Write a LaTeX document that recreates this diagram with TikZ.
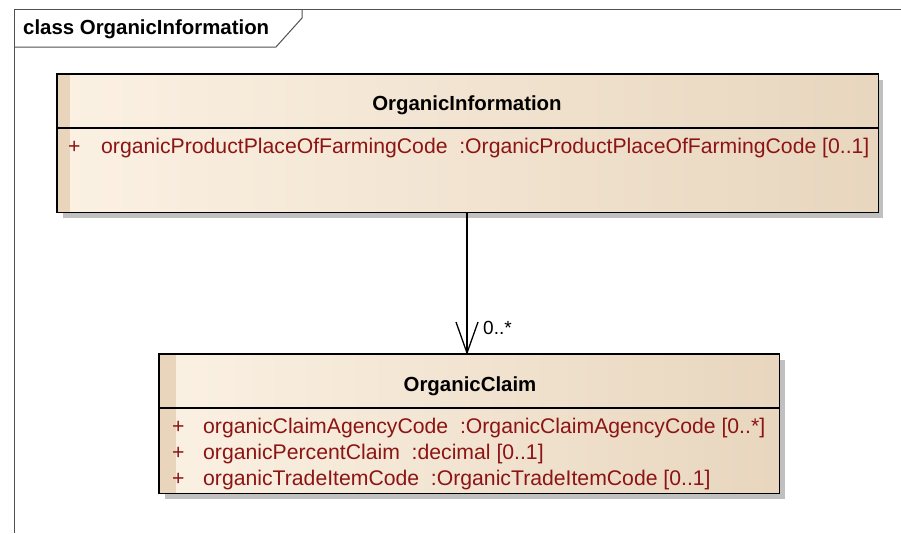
\documentclass[tikz,border=0pt]{standalone}
\usepackage{fontspec}
\setmainfont{Liberation Sans}
\definecolor{attrc}{RGB}{140,20,20}
\definecolor{boxl}{RGB}{251,241,227}
\definecolor{boxr}{RGB}{232,214,190}
\definecolor{stripec}{RGB}{232,213,188}
\definecolor{shadowc}{RGB}{192,192,192}
\definecolor{framec}{RGB}{80,80,80}
\tikzset{
  classbox/.style={draw=none, left color=boxl, right color=boxr, inner sep=0pt, anchor=north west},
  boxline/.style={draw=black, line width=1.8pt},
  divline/.style={draw=black, line width=1.2pt},
  ttl/.style={font=\fontsize{20.4}{24}\selectfont\bfseries, text=black},
  attr/.style={font=\fontsize{21.2}{24}\selectfont, text=attrc, anchor=base west, inner sep=0pt},
  mult/.style={font=\fontsize{19}{22}\selectfont, text=black, anchor=west, inner sep=1pt},
  assoc/.style={draw=black, line width=1.3pt, line join=miter}
}
\begin{document}
\begin{tikzpicture}[x=1pt,y=-1pt]
\useasboundingbox (0,0) rectangle (901,533);
% frame
\draw[framec, line width=1pt] (14,533) -- (14,9) -- (901,9);
\draw[framec, line width=1pt] (14,47) -- (276,47) -- (302,18) -- (302,9);
\node[ttl, anchor=base west, inner sep=0pt] (frametitle) at (23,34) {class OrganicInformation};

% OrganicInformation class
\fill[shadowc] (63,80) rectangle (883,218);
\node[classbox, minimum width=821pt, minimum height=138pt] (oi) at (57,74) {};
\fill[stripec] (57,74) rectangle (70,212);
\draw[divline] (57,128) -- (878,128);
\draw[boxline] (oi.north west) rectangle (oi.south east);
\node[ttl] (oititle) at (467,105) {OrganicInformation};
\node[attr] (oip) at (68,153) {+};
\node[attr] (oia) at (101,153) {organicProductPlaceOfFarmingCode\ \ :OrganicProductPlaceOfFarmingCode [0..1]};

% OrganicClaim class
\fill[shadowc] (165,360) rectangle (785,499);
\node[classbox, minimum width=620pt, minimum height=139pt] (oc) at (159,354) {};
\fill[stripec] (159,354) rectangle (176,493);
\draw[divline] (159,408) -- (779,408);
\draw[boxline] (oc.north west) rectangle (oc.south east);
\node[ttl] (octitle) at (470,386) {OrganicClaim};
\node[attr] (ocp1) at (172,433) {+};
\node[attr] (oca1) at (203,433) {organicClaimAgencyCode\ \ :OrganicClaimAgencyCode [0..*]};
\node[attr] (ocp2) at (172,459) {+};
\node[attr] (oca2) at (203,459) {organicPercentClaim\ \ :decimal [0..1]};
\node[attr] (ocp3) at (172,485) {+};
\node[attr] (oca3) at (203,485) {organicTradeItemCode\ \ :OrganicTradeItemCode [0..1]};

% association
\coordinate (src) at (467,212);
\coordinate (dst) at (467,353);
\draw[assoc] (src) -- (dst);
\draw[assoc] (dst) ++(-11,-31) -- (dst) -- ++(11,-31);
\node[mult] (m) at (482,328) {0..*};
\end{tikzpicture}
\end{document}
